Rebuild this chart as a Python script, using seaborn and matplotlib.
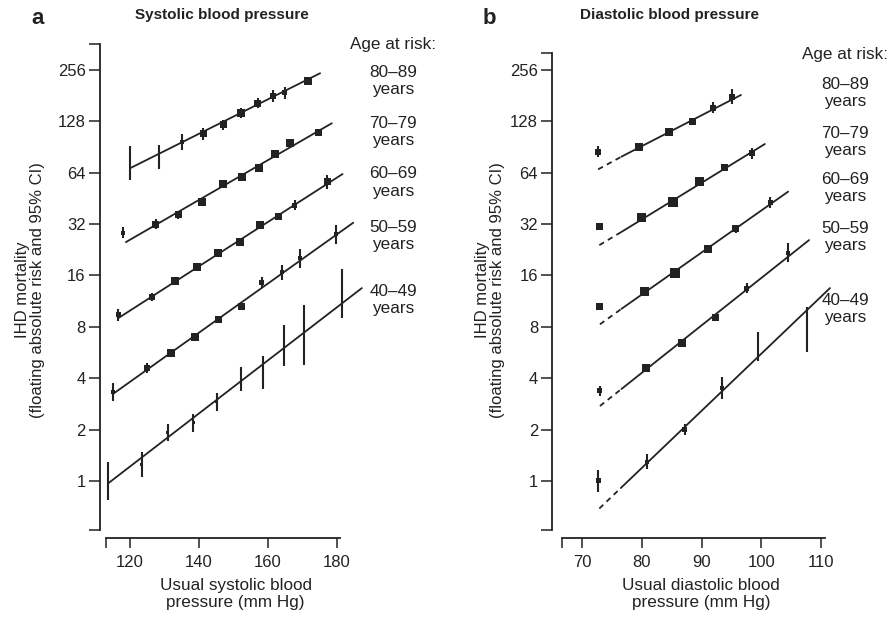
import matplotlib
matplotlib.use("Agg")
import matplotlib.pyplot as plt
import pandas as pd
import seaborn as sns

# ---------------- data ----------------
age_labels = ["80–89\nyears", "70–79\nyears", "60–69\nyears", "50–59\nyears", "40–49\nyears"]
y_ticks = [1, 2, 4, 8, 16, 32, 64, 128, 256]
sbp_ticks = [120, 140, 160, 180]
dbp_ticks = [70, 80, 90, 100, 110]

# Panel a: systolic (x = usual SBP, y = IHD mortality, ci = multiplicative half-width, sz = marker side px)
a80_x = [120.0, 128.4, 135.1, 141.2, 147.0, 152.2, 157.1, 161.4, 164.9, 171.6]
a80_y = [73, 79, 97, 108, 122, 143, 164, 180, 188, 221]
a80_ci = [1.25, 1.18, 1.11, 1.08, 1.07, 1.07, 1.07, 1.08, 1.08, 1.06]
a80_sz = [2, 2, 4, 7, 7, 8, 7, 6, 5, 8]
a80_fit_x = [120.0, 175.1]
a80_fit_y = [68, 245]

a70_x = [118.1, 127.4, 134.0, 140.8, 146.9, 152.4, 157.4, 162.0, 166.4, 174.6]
a70_y = [28.5, 31.9, 36.2, 43.3, 54.8, 60.2, 68.0, 82.1, 95.2, 109.9]
a70_ci = [1.08, 1.07, 1.06, 1.05, 1.05, 1.05, 1.05, 1.05, 1.05, 1.05]
a70_sz = [4, 7, 7, 8, 8, 8, 8, 8, 8, 7]
a70_fit_x = [118.8, 178.5]
a70_fit_y = [25.1, 124.8]

a60_x = [116.6, 126.3, 133.0, 139.3, 145.6, 151.9, 157.7, 163.0, 167.8, 177.2]
a60_y = [9.39, 12.0, 14.9, 17.9, 21.8, 25.2, 31.6, 35.4, 41.4, 56.7]
a60_ci = [1.09, 1.06, 1.05, 1.04, 1.04, 1.04, 1.04, 1.05, 1.07, 1.10]
a60_sz = [5, 6, 8, 8, 8, 8, 8, 7, 5, 7]
a60_fit_x = [116.6, 181.6]
a60_fit_y = [9.0, 62.9]

a50_x = [115.2, 124.9, 131.9, 138.8, 145.6, 152.2, 158.2, 164.0, 169.3, 179.7]
a50_y = [3.34, 4.58, 5.65, 6.95, 8.86, 10.6, 14.5, 16.7, 20.2, 27.9]
a50_ci = [1.13, 1.07, 1.05, 1.04, 1.04, 1.05, 1.08, 1.11, 1.14, 1.14]
a50_sz = [4, 6, 8, 8, 7, 7, 5, 4, 4, 4]
a50_fit_x = [115.2, 184.7]
a50_fit_y = [3.25, 32.6]

a40_x = [113.7, 123.4, 130.9, 138.3, 145.1, 152.2, 158.5, 164.7, 170.4, 181.5]
a40_y = [1.0, 1.25, 1.92, 2.20, 2.92, 3.95, 4.31, 6.20, 7.20, 12.55]
a40_ci = [1.29, 1.18, 1.12, 1.13, 1.13, 1.18, 1.25, 1.32, 1.50, 1.39]
a40_sz = [2, 3, 3, 3, 3, 2, 2, 2, 2, 2]
a40_fit_x = [113.7, 187.2]
a40_fit_y = [0.97, 13.5]

# Panel b: diastolic (fit: start, end of dashed part, end of solid part)
b80_x = [72.7, 79.6, 84.5, 88.5, 91.9, 95.1]
b80_y = [85.0, 90.9, 111.3, 127.5, 153.9, 178.5]
b80_ci = [1.08, 1.04, 1.04, 1.05, 1.08, 1.11]
b80_sz = [6, 8, 8, 7, 6, 6]
b80_fit_x = [72.7, 76.6, 96.6]
b80_fit_y = [67.0, 79.5, 182.7]

b70_x = [72.9, 80.0, 85.2, 89.6, 93.8, 98.4]
b70_y = [30.9, 34.9, 43.3, 56.7, 68.9, 83.2]
b70_ci = [1.04, 1.04, 1.04, 1.04, 1.05, 1.08]
b70_sz = [7, 9, 10, 9, 7, 6]
b70_fit_x = [72.9, 76.6, 100.6]
b70_fit_y = [24.1, 28.8, 94.3]

b60_x = [73.0, 80.5, 85.6, 91.1, 95.7, 101.5]
b60_y = [10.5, 12.9, 16.6, 22.9, 30.0, 43.0]
b60_ci = [1.04, 1.04, 1.04, 1.04, 1.05, 1.08]
b60_sz = [7, 9, 10, 8, 7, 5]
b60_fit_x = [73.0, 76.6, 104.5]
b60_fit_y = [8.28, 10.2, 49.6]

b50_x = [73.0, 80.7, 86.7, 92.3, 97.6, 104.5]
b50_y = [3.37, 4.58, 6.41, 9.10, 13.5, 21.8]
b50_ci = [1.07, 1.04, 1.04, 1.04, 1.07, 1.14]
b50_sz = [5, 8, 8, 7, 5, 4]
b50_fit_x = [73.0, 76.6, 108.0]
b50_fit_y = [2.75, 3.46, 25.8]

b40_x = [72.7, 80.9, 87.2, 93.4, 99.5, 107.6]
b40_y = [1.0, 1.30, 2.01, 3.53, 6.12, 7.70]
b40_ci = [1.16, 1.10, 1.08, 1.16, 1.22, 1.36]
b40_sz = [5, 4, 5, 4, 2, 2]
b40_fit_x = [72.9, 76.5, 111.5]
b40_fit_y = [0.69, 0.91, 13.5]

# ---------------- styling ----------------
sns.set_theme(style="ticks")
plt.rcParams["font.family"] = ["Liberation Sans", "DejaVu Sans"]
INK = "#222222"
W, H = 893, 622

fig = plt.figure(figsize=(W / 100, H / 100), dpi=100)


def px_axes(left, right, top, bottom):
    return fig.add_axes([left / W, 1 - bottom / H, (right - left) / W, (bottom - top) / H])


def draw_series(ax, x, y, ci, sz, fx, fy):
    lo = [v / f for v, f in zip(y, ci)]
    hi = [v * f for v, f in zip(y, ci)]
    ax.vlines(x, lo, hi, color=INK, lw=1.5, zorder=3)
    df = pd.DataFrame({"x": x, "y": y})
    sns.scatterplot(data=df, x="x", y="y", ax=ax, marker="s",
                    s=[(p * 0.72) ** 2 for p in sz], color=INK,
                    linewidth=0, zorder=4, legend=False)
    if len(fx) == 3:
        sns.lineplot(x=fx[:2], y=fy[:2], ax=ax, color=INK, lw=1.3,
                     linestyle=(0, (3.0, 2.5)), zorder=2)
        sns.lineplot(x=fx[1:], y=fy[1:], ax=ax, color=INK, lw=1.3, zorder=2)
    else:
        sns.lineplot(x=fx, y=fy, ax=ax, color=INK, lw=1.3, zorder=2)


def setup_axis(ax, xlim, xticks, xbounds, ybounds, xlabel):
    ax.set_yscale("log", base=2)
    ax.set_xlim(*xlim)
    ax.set_ylim(2 ** -1.1095, 2 ** 8.5255)
    ax.spines["top"].set_visible(False)
    ax.spines["right"].set_visible(False)
    for s in ("left", "bottom"):
        ax.spines[s].set_color(INK)
        ax.spines[s].set_linewidth(1.3)
    ax.spines["left"].set_bounds(*ybounds)
    ax.spines["bottom"].set_bounds(*xbounds)
    ax.set_yticks([ybounds[0]] + y_ticks + [ybounds[1]])
    ax.set_yticklabels([""] + [str(t) for t in y_ticks] + [""])
    ax.yaxis.set_minor_locator(matplotlib.ticker.NullLocator())
    ax.set_xticks([xbounds[0]] + xticks)
    ax.set_xticklabels([""] + [str(t) for t in xticks])
    ax.tick_params(axis="y", length=8, width=1.1, color=INK, labelsize=12,
                   labelcolor=INK, pad=2)
    ax.tick_params(axis="x", length=7, width=1.1, color=INK, labelsize=12,
                   labelcolor=INK, pad=5)
    ax.set_xlabel(xlabel, fontsize=12.3, color=INK, labelpad=6, linespacing=1.15)
    ax.set_ylabel("")
    ax.set_facecolor("none")


# ---------------- panel a ----------------
axA = px_axes(99.5, 371.5, 43, 538)
axA.set_yscale("log", base=2)
for args in [(a80_x, a80_y, a80_ci, a80_sz, a80_fit_x, a80_fit_y),
             (a70_x, a70_y, a70_ci, a70_sz, a70_fit_x, a70_fit_y),
             (a60_x, a60_y, a60_ci, a60_sz, a60_fit_x, a60_fit_y),
             (a50_x, a50_y, a50_ci, a50_sz, a50_fit_x, a50_fit_y),
             (a40_x, a40_y, a40_ci, a40_sz, a40_fit_x, a40_fit_y)]:
    draw_series(axA, *args)
setup_axis(axA, (111.16, 190.0), sbp_ticks, (113.0, 181.0), (0.516, 363),
           "Usual systolic blood\npressure (mm Hg)")

# ---------------- panel b ----------------
axB = px_axes(552, 839, 43, 538)
axB.set_yscale("log", base=2)
for args in [(b80_x, b80_y, b80_ci, b80_sz, b80_fit_x, b80_fit_y),
             (b70_x, b70_y, b70_ci, b70_sz, b70_fit_x, b70_fit_y),
             (b60_x, b60_y, b60_ci, b60_sz, b60_fit_x, b60_fit_y),
             (b50_x, b50_y, b50_ci, b50_sz, b50_fit_x, b50_fit_y),
             (b40_x, b40_y, b40_ci, b40_sz, b40_fit_x, b40_fit_y)]:
    draw_series(axB, *args)
setup_axis(axB, (64.98, 113.01), dbp_ticks, (66.65, 110.6), (0.516, 322),
           "Usual diastolic blood\npressure (mm Hg)")
axB.xaxis.label.set_x(0.52)


def ftext(x, y, s, **kw):
    fig.text(x / W, 1 - y / H, s, color=INK, ha="center", va="center", **kw)


# titles and panel letters
ftext(38, 18, "a", fontsize=16, fontweight="bold")
ftext(222, 15, "Systolic blood pressure", fontsize=11, fontweight="bold")
ftext(489, 18, "b", fontsize=16, fontweight="bold")
ftext(669, 15, "Diastolic blood pressure", fontsize=11, fontweight="bold")

# y labels
ylab = "IHD mortality\n(floating absolute risk and 95% CI)"
ftext(30, 290, ylab, fontsize=12, rotation=90, linespacing=1.05, multialignment="center")
ftext(490, 290, ylab, fontsize=12, rotation=90, linespacing=1.05, multialignment="center")

# age legends
ftext(393, 45, "Age at risk:", fontsize=12.3)
for lab, yc in zip(age_labels, [81, 132, 182.5, 236, 300]):
    ftext(393, yc, lab, fontsize=12.3, linespacing=1.2)
ftext(845, 55, "Age at risk:", fontsize=12.3)
for lab, yc in zip(age_labels, [93, 142, 188, 237, 309]):
    ftext(845, yc, lab, fontsize=12.3, linespacing=1.2)

fig.savefig("out.png", dpi=100)
